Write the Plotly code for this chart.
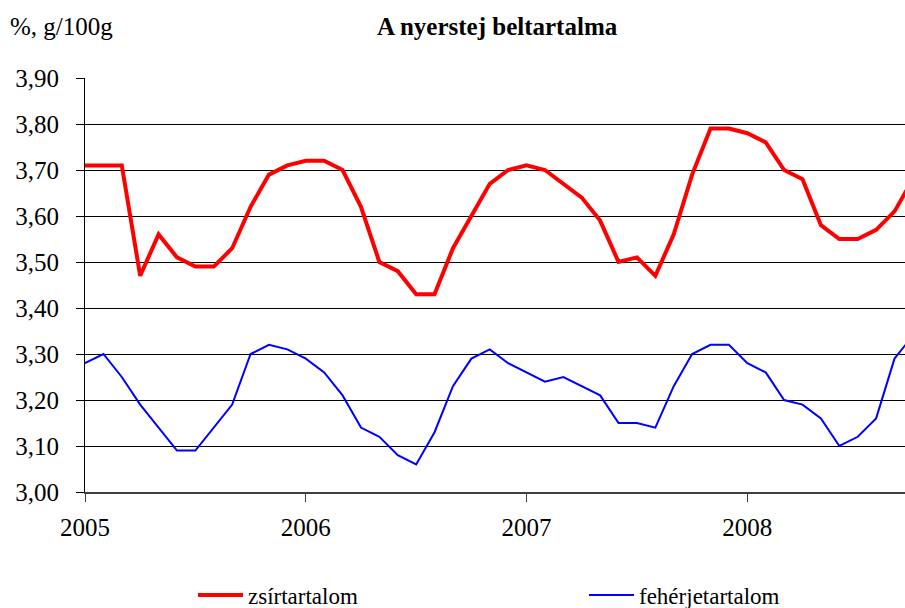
import plotly.graph_objects as go

# month index from January 2005
months = list(range(46))
year_ticks = [0, 12, 24, 36]
year_labels = ["2005", "2006", "2007", "2008"]

zsir = [3.71, 3.71, 3.71, 3.47, 3.56, 3.51, 3.49, 3.49, 3.53, 3.62,
        3.69, 3.71, 3.72, 3.72, 3.70, 3.62, 3.50, 3.48, 3.43, 3.43,
        3.53, 3.60, 3.67, 3.70, 3.71, 3.70, 3.67, 3.64, 3.59, 3.50,
        3.51, 3.47, 3.56, 3.69, 3.79, 3.79, 3.78, 3.76, 3.70, 3.68,
        3.58, 3.55, 3.55, 3.57, 3.61, 3.68]

feherje = [3.28, 3.30, 3.25, 3.19, 3.14, 3.09, 3.09, 3.14, 3.19, 3.30,
           3.32, 3.31, 3.29, 3.26, 3.21, 3.14, 3.12, 3.08, 3.06, 3.13,
           3.23, 3.29, 3.31, 3.28, 3.26, 3.24, 3.25, 3.23, 3.21, 3.15,
           3.15, 3.14, 3.23, 3.30, 3.32, 3.32, 3.28, 3.26, 3.20, 3.19,
           3.16, 3.10, 3.12, 3.16, 3.29, 3.34]

y_ticks = [3.0, 3.1, 3.2, 3.3, 3.4, 3.5, 3.6, 3.7, 3.8, 3.9]

FF = "Liberation Serif"
W, H = 905, 608

fig = go.Figure()
fig.add_trace(go.Scatter(x=months, y=zsir, mode="lines", name="zsírtartalom",
                         line=dict(color="#FF0000", width=4)))
fig.add_trace(go.Scatter(x=months, y=feherje, mode="lines", name="fehérjetartalom",
                         line=dict(color="#0000FF", width=2)))

plot_w = W - 85
plot_h = H - 78 - 116

fig.update_layout(
    width=W, height=H,
    margin=dict(l=85, r=0, t=78, b=116, autoexpand=False),
    paper_bgcolor="white", plot_bgcolor="white",
    separators=", ",
    font=dict(family=FF, color="black", size=22),
    showlegend=True,
    legend=dict(orientation="h", xref="container", yref="container",
                x=193 / W, xanchor="left", y=(H - 595) / H, yanchor="middle",
                font=dict(size=23, family=FF),
                entrywidth=331, entrywidthmode="pixels", itemwidth=45,
                bgcolor="rgba(0,0,0,0)"),
    annotations=[
        dict(text="<b>A nyerstej beltartalma</b>", x=(497 - 85) / plot_w,
             y=(H - 116 - 26) / plot_h, xref="paper", yref="paper", showarrow=False,
             font=dict(size=25, family=FF), xanchor="center", yanchor="middle"),
        dict(text="%, g/100g", x=(8 - 85) / plot_w, y=(H - 116 - 26) / plot_h,
             xref="paper", yref="paper", showarrow=False,
             font=dict(size=25, family=FF), xanchor="left", yanchor="middle"),
    ],
)

fig.update_xaxes(range=[0, 44.57], tickvals=year_ticks, ticktext=year_labels,
                 showgrid=False, zeroline=False, showline=True, automargin=False,
                 linecolor="#404040", linewidth=2, ticks="outside", ticklen=8,
                 tickcolor="#404040", tickfont=dict(size=25, family=FF),
                 ticklabelstandoff=4)
fig.update_yaxes(range=[3.0, 3.9], tickvals=y_ticks, tickformat=".2f",
                 showgrid=True, gridcolor="black", gridwidth=1, zeroline=False,
                 showline=True, linecolor="black", linewidth=1, automargin=False,
                 ticks="outside", ticklen=8, tickcolor="black",
                 tickfont=dict(size=25, family=FF), ticklabelstandoff=12)

fig.write_html("out.html", config={"displayModeBar": False},
               post_script="document.body.style.margin='0';document.body.style.overflow='hidden';")
